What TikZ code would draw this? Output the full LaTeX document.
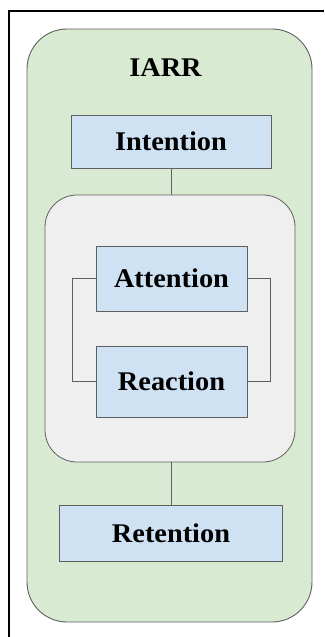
\documentclass[tikz,border=0pt]{standalone}
\usepackage{fontspec}
\setmainfont{Liberation Serif}[FakeStretch=1.05]
\usepackage{xcolor}
\usetikzlibrary{positioning}

\definecolor{stageblue}{HTML}{CFE2F3}
\definecolor{framegreen}{HTML}{D9EAD3}
\definecolor{coregray}{HTML}{EFEFEF}
\definecolor{edgegray}{HTML}{5F5F5F}

\tikzset{
    stagebox/.style={draw=edgegray, line width=0.8pt, fill=stageblue,
        font=\fontsize{27}{30}\selectfont\bfseries, inner sep=0pt},
    link/.style={draw=edgegray, line width=0.8pt}
}

\begin{document}
\begin{tikzpicture}[x=1pt, y=-1pt]
    \useasboundingbox (0, 0) rectangle (324, 637);
    \draw[line width=2.4pt] (8, 11) -- (324, 11);
    \draw[line width=2.4pt] (9, 11) -- (9, 637);

    \node[draw=edgegray, line width=0.9pt, fill=framegreen, rounded corners=40pt,
        minimum width=285pt, minimum height=593pt] (frame) at (169.5, 325.5) {};
    \node[font=\fontsize{27}{30}\selectfont\bfseries] (title) at (165.5, 68) {IARR};

    \node[stagebox, minimum width=200pt, minimum height=53pt] (intention) at (171, 141.5) {Intention};
    \node[draw=edgegray, line width=0.8pt, fill=coregray, rounded corners=32pt,
        minimum width=250pt, minimum height=267pt] (core) at (170, 328.5) {};
    \node[stagebox, minimum width=151pt, minimum height=65pt] (attention) at (171.5, 278.5) {Attention};
    \node[stagebox, minimum width=151pt, minimum height=71pt] (reaction) at (171.5, 381.5) {Reaction};
    \node[stagebox, minimum width=223pt, minimum height=56pt] (retention) at (171, 533) {Retention};

    \draw[link] (intention.south) -- (intention.south |- core.north);
    \draw[link] (retention.north |- core.south) -- (retention.north);
    \draw[link] (attention.west) -- ++(-23, 0) |- (reaction.west);
    \draw[link] (attention.east) -- ++(23, 0) |- (reaction.east);
\end{tikzpicture}
\end{document}
